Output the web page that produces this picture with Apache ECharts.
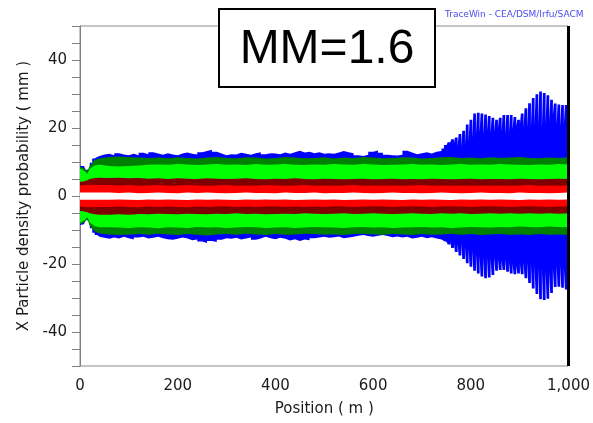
<!DOCTYPE html>
<html>
<head>
<meta charset="utf-8">
<script src="https://cdn.jsdelivr.net/npm/echarts@6/dist/echarts.min.js"></script>
<style>html,body{margin:0;padding:0;background:#fff}#c{width:593px;height:423px}</style>
</head>
<body>
<div id="c"></div>
<script>
// ---- data (position in m, envelope in mm) ----
const blueX = [0,4,8,12,16,20,25,30,35,40,50,60,70,80,90,100,110,120,130,140,150,160,170,180,190,200,210,220,230,240,250,260,270,280,290,300,310,320,330,340,350,360,370,380,390,400,410,420,430,440,450,460,470,480,490,500,510,520,530,540,550,560,570,580,590,600,610,620,630,640,650,660,670,680,690,700,710,720,730,740,
745,750.5,752.5,758,760,765.5,767.5,773,775,780.5,782.5,788,790,795.5,797.5,803,805,810.5,812.5,818,820,825.5,827.5,833,835,840.5,842.5,848,850,855.5,857.5,863,865,870.5,872.5,878,880,885.5,887.5,893,895,900.5,902.5,908,910,915.5,917.5,923,925,930.5,932.5,938,940,945.5,947.5,953,955,960.5,962.5,968,970,975.5,977.5,983,985,990.5,992.5,998,1000];
const blueTop = [8.8,8.8,8.4,7.6,8.0,9.8,11.0,11.5,11.8,12.2,
12.4,12.0,12.6,12.2,12.0,12.4,12.0,12.7,12.3,12.9,
12.5,12.1,12.6,12.2,12.0,12.5,12.8,12.4,12.2,12.9,
13.2,13.6,13.0,12.5,12.0,12.3,12.2,12.7,12.4,12.1,
12.6,12.9,12.3,12.6,12.5,12.3,12.8,12.4,12.9,13.3,
12.8,13.0,12.6,12.9,12.4,12.6,12.4,12.8,13.2,12.9,
12.6,12.0,11.8,12.1,13.0,13.4,12.7,12.1,12.0,11.9,
12.1,13.3,12.8,12.3,12.6,12.9,12.5,13.0,13.2,14.0,
15.0,14.5,15.8,15.3,16.7,15.5,17.2,14.5,18.2,14.5,19.2,15.0,21.0,16.0,22.4,17.0,24.3,18.0,24.5,18.5,
24.3,18.0,24.0,19.0,23.5,18.5,23.0,19.0,22.4,20.0,23.0,19.0,23.8,18.0,23.8,18.5,23.8,19.5,23.2,20.5,
22.4,21.0,24.3,20.0,25.8,20.0,27.3,20.0,28.8,20.5,29.9,21.0,30.7,20.0,30.3,21.0,29.6,22.0,28.3,24.0,
27.2,21.0,26.9,20.5,26.8,21.0,26.8,21.0,21.5];
const blueBot = [-8.5,-8.3,-8.0,-7.0,-7.4,-9.5,-10.8,-11.5,-12.0,-12.3,
-12.6,-12.2,-12.5,-12.0,-12.4,-12.8,-12.2,-12.0,-12.5,-12.3,
-12.0,-12.4,-12.7,-12.9,-12.6,-12.2,-12.5,-13.0,-12.8,-13.4,
-13.8,-13.2,-13.5,-12.9,-12.4,-12.6,-12.3,-12.8,-12.5,-12.2,
-12.9,-12.5,-12.0,-12.4,-12.7,-12.3,-12.6,-13.1,-12.7,-13.2,
-12.8,-13.0,-12.4,-12.2,-12.0,-12.3,-12.1,-11.9,-12.4,-12.2,
-12.0,-11.7,-11.5,-11.8,-12.0,-11.7,-11.5,-11.8,-12.1,-11.9,
-12.2,-12.0,-12.5,-12.3,-12.0,-12.4,-12.1,-12.5,-12.8,-13.2,
-13.5,-13.0,-14.3,-13.5,-15.3,-14.0,-16.5,-14.0,-17.5,-14.0,-18.5,-15.0,-19.8,-15.5,-20.8,-16.0,-22.0,-17.0,-22.8,-17.5,
-23.7,-18.0,-24.2,-18.0,-24.0,-18.5,-23.2,-18.0,-22.0,-18.5,-21.8,-19.0,-21.8,-18.5,-22.3,-19.5,-22.8,-20.0,-23.0,-20.5,
-22.8,-20.0,-23.0,-19.5,-24.2,-19.5,-25.6,-20.0,-27.2,-20.5,-28.8,-21.0,-30.4,-21.5,-30.6,-22.0,-30.2,-22.5,-28.5,-21.5,
-26.8,-20.5,-26.7,-20.5,-27.0,-21.0,-27.5,-21.0,-22.0];

const innerX = [0,5,10,15,20,30,40,60,80,100,120,140,160,180,200,220,240,260,280,300,320,340,360,380,400,420,440,460,480,500,520,540,560,580,600,620,640,660,680,700,720,740,760,780,800,820,840,860,880,900,920,940,960,980,1000];
const darkGreenTop = [8.5,8.4,8.0,7.2,9.0,10.6,11.1,
11.5,11.6,11.5,11.3,11.2,11.3,11.1,11.4,11.2,11.0,11.3,11.5,11.2,11.1,11.4,11.3,11.0,11.2,11.5,11.3,
11.1,11.2,11.4,11.0,11.3,11.2,11.5,11.3,11.1,11.2,11.4,11.3,11.0,11.2,11.4,11.5,11.2,11.3,11.1,11.4,
11.2,11.3,11.5,11.2,11.1,11.3,11.2,11.4];
const darkGreenBot = [-8.3,-8.0,-7.6,-6.8,-8.8,-10.4,-11.0,
-11.3,-11.5,-11.4,-11.2,-11.4,-11.1,-11.3,-11.5,-11.2,-11.4,-11.6,-11.3,-11.2,-11.4,-11.1,-11.3,-11.5,-11.2,-11.4,-11.3,
-11.1,-11.2,-11.4,-11.3,-11.5,-11.2,-11.1,-11.3,-11.4,-11.2,-11.3,-11.5,-11.2,-11.4,-11.3,-11.1,-11.4,-11.2,-11.5,-11.3,
-11.2,-11.4,-11.3,-11.5,-11.2,-11.4,-11.3,-11.5];
const greenTop = [8.0,7.8,7.2,6.5,8.0,9.0,9.2,
8.8,8.7,8.8,9.0,9.2,9.3,9.2,9.4,9.3,9.1,9.3,9.4,9.2,9.3,9.1,9.4,9.2,9.3,9.4,9.2,
9.1,9.3,9.2,9.4,9.3,9.2,9.4,9.3,9.1,9.2,9.3,9.4,9.2,9.3,9.1,9.3,9.4,9.2,9.3,9.2,
9.4,9.3,9.2,9.1,9.3,9.2,9.4,9.3];
const greenBot = [-7.8,-7.5,-7.0,-6.2,-7.8,-8.8,-9.2,
-9.2,-9.3,-9.4,-9.2,-9.3,-9.5,-9.2,-9.3,-9.4,-9.1,-9.3,-9.2,-9.4,-9.3,-9.1,-9.2,-9.4,-9.3,-9.2,-9.4,
-9.3,-9.1,-9.2,-9.3,-9.4,-9.2,-9.1,-9.3,-9.2,-9.4,-9.3,-9.2,-9.1,-9.3,-9.2,-9.4,-9.3,-9.1,-9.2,-9.3,
-9.1,-9.2,-9.0,-9.1,-9.2,-9.0,-9.1,-9.2];
const darkRedTop = [4.3,4.2,4.4,4.6,5.0,5.3,5.4,
5.3,5.4,5.2,5.3,5.1,5.2,5.0,5.2,5.1,5.0,5.2,5.1,5.0,5.1,5.2,5.0,4.9,5.1,5.0,5.2,
5.0,4.9,5.1,5.0,4.9,5.0,5.1,4.9,5.0,5.1,4.9,5.0,4.9,5.1,5.0,4.9,5.0,5.1,4.9,5.0,
5.0,4.9,5.1,5.0,4.9,5.0,5.1,5.0];
const darkRedBot = [-4.5,-4.4,-4.6,-4.8,-5.1,-5.4,-5.5,
-5.5,-5.4,-5.5,-5.3,-5.4,-5.2,-5.3,-5.4,-5.2,-5.3,-5.4,-5.2,-5.3,-5.1,-5.3,-5.2,-5.4,-5.3,-5.2,-5.3,
-5.1,-5.2,-5.3,-5.2,-5.1,-5.3,-5.2,-5.1,-5.2,-5.3,-5.2,-5.1,-5.2,-5.3,-5.1,-5.2,-5.1,-5.3,-5.2,-5.1,
-5.2,-5.1,-5.2,-5.1,-5.2,-5.1,-5.2,-5.1];
const redTop = [3.2,3.1,3.2,3.3,3.2,3.3,3.2,
3.2,3.1,3.2,3.0,3.1,3.2,3.0,3.1,3.2,3.1,3.0,3.1,3.2,3.0,3.1,3.0,3.2,3.1,3.0,3.1,
3.2,3.0,3.1,3.0,3.1,3.2,3.0,3.1,3.0,3.1,3.0,3.1,3.2,3.0,3.1,3.0,3.1,3.0,3.1,3.0,
3.1,3.0,3.1,3.2,3.0,3.1,3.0,3.1];
const redBot = [-3.2,-3.1,-3.2,-3.3,-3.2,-3.3,-3.2,
-3.2,-3.1,-3.2,-3.3,-3.1,-3.2,-3.1,-3.2,-3.3,-3.1,-3.2,-3.1,-3.0,-3.2,-3.1,-3.2,-3.1,-3.0,-3.2,-3.1,
-3.2,-3.1,-3.2,-3.0,-3.1,-3.2,-3.1,-3.0,-3.1,-3.2,-3.1,-3.0,-3.1,-3.2,-3.1,-3.0,-3.1,-3.2,-3.1,-3.0,
-3.1,-3.2,-3.1,-3.0,-3.1,-3.2,-3.1,-3.0];
const whiteTop = [1.0,1.0,1.0,1.0,1.0,1.0,1.0,
1.0,0.9,1.0,0.8,0.9,1.0,0.9,0.8,1.0,0.9,1.0,0.9,0.8,0.9,1.0,0.9,0.9,0.8,1.0,0.9,
0.9,1.0,0.8,0.9,0.9,1.0,0.9,0.8,0.9,1.0,0.9,0.9,0.8,0.9,1.0,0.9,0.8,0.9,1.0,0.9,
0.9,0.8,1.0,0.9,0.9,0.8,0.9,1.0];
const whiteBot = [-1.1,-1.1,-1.1,-1.1,-1.1,-1.1,-1.1,
-1.1,-1.0,-1.1,-1.2,-1.0,-1.1,-1.0,-1.1,-1.2,-1.0,-1.1,-1.0,-1.1,-1.2,-1.0,-1.1,-1.0,-1.1,-1.0,-1.2,
-1.1,-1.0,-1.1,-1.0,-1.2,-1.1,-1.0,-1.1,-1.0,-1.1,-1.2,-1.0,-1.1,-1.0,-1.1,-1.2,-1.0,-1.1,-1.0,-1.1,
-1.0,-1.1,-1.2,-1.0,-1.1,-1.0,-1.1,-1.0];

const xTickLabels = [0, 200, 400, 600, 800, 1000];
const yTickLabels = [-40, -20, 0, 20, 40];

// ---- build chart ----
function band(xs, ys, color, step) {
  return {
    type: 'line',
    data: xs.map((x, i) => [x, ys[i]]),
    step: step ? 'end' : false,
    showSymbol: false,
    symbol: 'none',
    silent: true,
    lineStyle: { width: 0, color: color },
    areaStyle: { color: color, opacity: 1, origin: 0 },
    itemStyle: { color: color }
  };
}

const FONT = 'DejaVu Sans';
const series = [
  band(blueX, blueTop, '#0000ff', true),
  band(blueX, blueBot, '#0000ff', true),
  band(innerX, darkGreenTop, '#008000'),
  band(innerX, darkGreenBot, '#008000'),
  band(innerX, greenTop, '#00ff00'),
  band(innerX, greenBot, '#00ff00'),
  band(innerX, darkRedTop, '#800000'),
  band(innerX, darkRedBot, '#800000'),
  band(innerX, redTop, '#ff0000'),
  band(innerX, redBot, '#ff0000'),
  band(innerX, whiteTop, '#ffffff'),
  band(innerX, whiteBot, '#ffffff')
];
series[series.length - 1].markLine = {
  silent: true,
  symbol: 'none',
  label: { show: false },
  lineStyle: { color: '#000', width: 3, type: 'solid' },
  data: [{ xAxis: 1000 }]
};

const chart = echarts.init(document.getElementById('c'), null, { renderer: 'canvas' });
chart.setOption({
  animation: false,
  backgroundColor: '#fff',
  grid: { left: 80, right: 24, top: 26, bottom: 57, show: true, borderColor: '#8c8c8c', borderWidth: 1 },
  xAxis: {
    type: 'value', min: 0, max: 1000, interval: 50,
    name: 'Position ( m )', nameLocation: 'middle', nameGap: 36,
    nameTextStyle: { fontFamily: FONT, fontSize: 15, color: '#1a1a1a' },
    axisLine: { show: true, lineStyle: { color: '#808080', width: 1 } },
    axisTick: { show: true, length: 8, lineStyle: { color: '#808080' } },
    axisLabel: {
      margin: 13, fontFamily: FONT, fontSize: 15, color: '#1a1a1a',
      formatter: v => xTickLabels.indexOf(v) >= 0 ? v.toLocaleString('en-US') : ''
    },
    splitLine: { show: false }
  },
  yAxis: {
    type: 'value', min: -50, max: 50, interval: 5,
    name: 'X Particle density probability ( mm )', nameLocation: 'middle', nameGap: 46,
    nameTextStyle: { fontFamily: FONT, fontSize: 15, color: '#1a1a1a' },
    axisLine: { show: true, lineStyle: { color: '#808080', width: 1 } },
    axisTick: { show: true, length: 8, lineStyle: { color: '#808080' } },
    axisLabel: {
      margin: 13, fontFamily: FONT, fontSize: 15, color: '#1a1a1a',
      formatter: v => yTickLabels.indexOf(v) >= 0 ? String(v) : ''
    },
    splitLine: { show: false }
  },
  series: series,
  graphic: [
    { type: 'rect', z: 100, shape: { x: 219, y: 9, width: 216, height: 78 },
      style: { fill: '#fff', stroke: '#000', lineWidth: 2 } },
    { type: 'text', z: 101, x: 327, y: 50,
      style: { text: 'MM=1.6', font: '48px "Liberation Sans", Arial, sans-serif', fill: '#000', align: 'center', verticalAlign: 'middle' } },
    { type: 'text', z: 101, x: 445, y: 10,
      style: { text: 'TraceWin - CEA/DSM/Irfu/SACM', font: '9px "DejaVu Sans"', fill: '#4a4af0', align: 'left', verticalAlign: 'top' } }
  ]
});
</script>
</body>
</html>
